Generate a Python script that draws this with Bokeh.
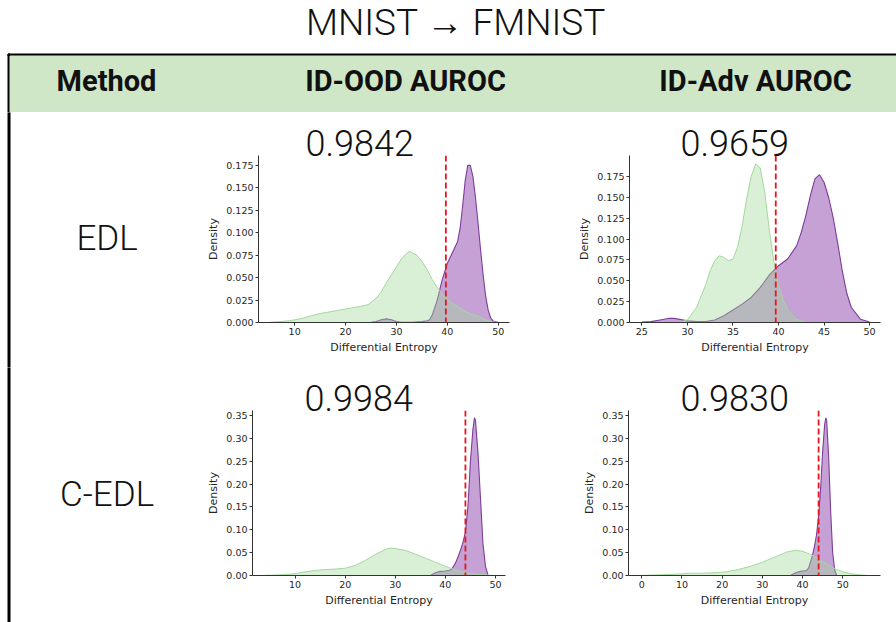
from bokeh.plotting import figure
from bokeh.layouts import column, row
from bokeh.models import Range1d, FixedTicker, PrintfTickFormatter, Span, Title
from bokeh.core.properties import value
from bokeh.embed import file_html
from bokeh.resources import INLINE

# ---------------- data ----------------
TITLE = "MNIST → FMNIST"
HEADERS = ["Method", "ID-OOD AUROC", "ID-Adv AUROC"]
METHODS = ["EDL", "C-EDL"]
AUROC = [["0.9842", "0.9659"], ["0.9984", "0.9830"]]
THRESH = [[39.7, 39.7], [44.0, 44.0]]

# EDL, ID-OOD
a_id_x = [5, 7, 9, 11, 13, 15, 17, 19, 21, 23, 24.5, 26, 27, 28, 29, 30, 31, 32, 32.5, 33, 34, 35, 36, 37,
          38, 39, 40, 41, 42, 43, 44, 45, 46, 47, 48, 49, 50]
a_id_y = [0.0002, 0.001, 0.002, 0.004, 0.007, 0.010, 0.012, 0.014, 0.016, 0.018, 0.020, 0.027, 0.034, 0.044,
          0.053, 0.062, 0.071, 0.077, 0.079, 0.078, 0.075, 0.068, 0.059, 0.048, 0.039, 0.032, 0.026, 0.021,
          0.018, 0.014, 0.011, 0.009, 0.007, 0.004, 0.002, 0.0007, 0.0002]
a_ood_x = [25, 26, 27, 28, 29, 30, 31, 33, 35, 36, 36.5, 37, 38, 39, 40, 41, 42, 42.5, 43, 43.5, 44, 44.5,
           45, 45.5, 46, 46.5, 47, 47.5, 48, 48.5, 49, 50]
a_ood_y = [0.0003, 0.001, 0.003, 0.004, 0.003, 0.001, 0.0003, 0.0003, 0.001, 0.002, 0.003, 0.008, 0.025,
           0.048, 0.066, 0.078, 0.090, 0.105, 0.130, 0.158, 0.175, 0.175, 0.163, 0.140, 0.112, 0.082, 0.054,
           0.030, 0.014, 0.005, 0.0015, 0.0]

# EDL, ID-Adv
b_id_x = [29, 30, 31, 32, 32.5, 33, 33.5, 34, 34.5, 35, 35.5, 36, 36.5, 37, 37.5, 38, 38.5, 39, 39.5, 40,
          40.5, 41, 42, 43]
b_id_y = [0.0, 0.003, 0.018, 0.045, 0.062, 0.074, 0.080, 0.078, 0.074, 0.076, 0.090, 0.115, 0.148, 0.175,
          0.190, 0.185, 0.155, 0.110, 0.072, 0.045, 0.027, 0.015, 0.004, 0.0]
b_adv_x = [25, 26, 27, 28, 28.5, 29, 30, 31, 32, 33, 34, 35, 36, 37, 38, 39, 40, 41, 42, 42.5, 43, 43.5, 44,
           44.5, 45, 45.5, 46, 46.5, 47, 47.5, 48, 49, 50]
b_adv_y = [0.0005, 0.001, 0.003, 0.005, 0.005, 0.004, 0.002, 0.001, 0.001, 0.003, 0.008, 0.015, 0.022, 0.030,
           0.042, 0.057, 0.068, 0.076, 0.092, 0.108, 0.128, 0.152, 0.172, 0.177, 0.168, 0.150, 0.126, 0.095,
           0.062, 0.035, 0.018, 0.004, 0.0005]

# C-EDL, ID-OOD
c_id_x = [4, 6, 8, 10, 12, 14, 16, 18, 20, 22, 24, 26, 28, 29, 30, 32, 34, 36, 38, 40, 42, 44, 46, 48, 50]
c_id_y = [0.0005, 0.001, 0.002, 0.004, 0.008, 0.011, 0.013, 0.014, 0.016, 0.022, 0.033, 0.046, 0.057, 0.060,
          0.059, 0.055, 0.047, 0.038, 0.029, 0.020, 0.012, 0.006, 0.003, 0.001, 0.0]
c_ood_x = [37, 38, 39, 40, 41, 41.5, 42, 42.5, 43, 43.5, 44, 44.5, 45, 45.5, 45.8, 46, 46.5, 47, 47.5, 48,
           48.5]
c_ood_y = [0.0, 0.006, 0.009, 0.010, 0.012, 0.018, 0.027, 0.040, 0.055, 0.072, 0.095, 0.150, 0.250, 0.320,
           0.345, 0.340, 0.270, 0.170, 0.070, 0.020, 0.002]

# C-EDL, ID-Adv
d_id_x = [0, 3, 6, 9, 12, 15, 18, 21, 24, 27, 30, 33, 36, 38, 40, 42, 44, 46, 48, 50, 52, 54, 56]
d_id_y = [0.0003, 0.001, 0.002, 0.003, 0.005, 0.005, 0.006, 0.008, 0.013, 0.020, 0.029, 0.040, 0.051, 0.055,
          0.053, 0.046, 0.036, 0.025, 0.015, 0.008, 0.004, 0.0015, 0.0003]
d_adv_x = [37, 38, 39, 40, 41, 41.5, 42, 42.5, 43, 43.5, 44, 44.5, 45, 45.5, 45.8, 46, 46.5, 47, 47.5, 48,
           48.5]
d_adv_y = [0.0, 0.005, 0.008, 0.010, 0.011, 0.016, 0.030, 0.045, 0.065, 0.090, 0.130, 0.190, 0.270, 0.330,
           0.345, 0.340, 0.260, 0.140, 0.050, 0.012, 0.0]

X_TICKS = [[10, 20, 30, 40, 50], [25, 30, 35, 40, 45, 50], [10, 20, 30, 40, 50], [0, 10, 20, 30, 40, 50]]
Y_TICKS_TOP = [0.0, 0.025, 0.05, 0.075, 0.1, 0.125, 0.15, 0.175]
Y_TICKS_BOTTOM = [0.0, 0.05, 0.1, 0.15, 0.2, 0.25, 0.3, 0.35]

# ---------------- style ----------------
LIGHT = value("Roboto Light")
BOLD = value("Roboto")
GREEN = "#a1d99b"
GREEN_EDGE = "#a1d99b"
PURPLE = "#8e44ad"
PURPLE_EDGE = "#7d3c98"
BAND = "#cfe6c7"
AXC = "#333333"
W = 896
SHIFT = 0.39  # em offset of the rendered alphabetic baseline


def canvas(w, h, line_top=-10.0):
    p = figure(width=w, height=h, x_range=Range1d(0, w), y_range=Range1d(h, 0),
               toolbar_location=None, output_backend="svg", title=None, min_border=0,
               x_axis_type=None, y_axis_type=None)
    p.frame_align = False
    p.grid.visible = False
    p.outline_line_color = None
    p.background_fill_color = "white"
    p.border_fill_color = "white"
    p.quad(left=7.5, right=9.5, top=line_top, bottom=h + 10, color="black")
    return p


def put_text(p, xs, base, labels, font, size, style="normal"):
    y = base - SHIFT * size
    p.text(x=xs, y=[y] * len(xs), text=labels, text_font=font, text_font_style=style,
           text_font_size=f"{size}px", text_align="center", text_baseline="alphabetic",
           text_color="#111111")


def density(w, h, mbl, mbr, mbt, mbb, xr, yr, xt, yt, yfmt, gx, gy, px, py, thr, ttl, toff):
    p = figure(width=w, height=h, x_range=Range1d(*xr), y_range=Range1d(*yr),
               toolbar_location=None, output_backend="svg", title=None,
               min_border_left=mbl, min_border_right=mbr, min_border_top=mbt, min_border_bottom=mbb)
    p.frame_align = False
    p.grid.visible = False
    p.outline_line_color = None
    p.background_fill_color = "white"
    p.border_fill_color = "white"
    p.add_layout(Title(text=ttl, align="left", offset=toff, vertical_align="bottom", standoff=0,
                       text_font="Roboto Light", text_font_size="36px", text_font_style="normal",
                       text_color="#111111"), "above")
    p.varea(x=px, y1=0, y2=py, fill_color=PURPLE, fill_alpha=0.5)
    p.line(px, py, line_color=PURPLE_EDGE, line_width=1.1)
    p.varea(x=gx, y1=0, y2=gy, fill_color=GREEN, fill_alpha=0.4)
    p.line(gx, gy, line_color=GREEN_EDGE, line_width=1.0)
    p.add_layout(Span(location=thr, dimension="height", line_color="#e8151b",
                      line_dash="6 3", line_width=1.8))
    p.xaxis.ticker = FixedTicker(ticks=xt, minor_ticks=[])
    p.yaxis.ticker = FixedTicker(ticks=yt, minor_ticks=[])
    p.yaxis.formatter = PrintfTickFormatter(format=yfmt)
    for ax in (p.xaxis, p.yaxis):
        ax.axis_line_color = AXC
        ax.axis_line_width = 1
        ax.major_tick_line_color = AXC
        ax.major_tick_in = 0
        ax.major_tick_out = 3
        ax.minor_tick_out = 0
        ax.minor_tick_in = 0
        ax.major_label_text_font = "DejaVu Sans"
        ax.major_label_text_font_size = "9.5px"
        ax.major_label_text_color = "#262626"
        ax.major_label_standoff = 2
        ax.axis_label_text_font = "DejaVu Sans"
        ax.axis_label_text_font_size = "11px"
        ax.axis_label_text_font_style = "normal"
        ax.axis_label_text_color = "#262626"
        ax.axis_label_standoff = 3
    p.xaxis.axis_label = "Differential Entropy"
    p.yaxis.axis_label = "Density"
    return p


# header (screen y 0 -> 112)
hdr = canvas(W, 112, line_top=53.5)
hdr.quad(left=7.5, right=W, top=53.5, bottom=55.5, color="black")
hdr.quad(left=9.5, right=W, top=55.5, bottom=111.7, color=BAND)
put_text(hdr, [455.5], 36, [TITLE], LIGHT, 37)
put_text(hdr, [106, 405, 755], 92.3, HEADERS, BOLD, 29, "bold")


def label_col(h, txt, base):
    c = canvas(198, h)
    put_text(c, [106.6], base, [txt], LIGHT, 35)
    return c


# row 1 (screen y 112 -> 367), frames 155 -> 321.7
pa = density(371, 255, 60, 60, 43, 45, (2.9, 52.2), (0, 0.186), X_TICKS[0], Y_TICKS_TOP, "%.3f",
             a_id_x, a_id_y, a_ood_x, a_ood_y, THRESH[0][0], AUROC[0][0], 47)
pb = density(327, 255, 60, 16, 43, 45, (23.64, 51.2), (0, 0.2), X_TICKS[1], Y_TICKS_TOP, "%.3f",
             b_id_x, b_id_y, b_adv_x, b_adv_y, THRESH[0][1], AUROC[0][1], 51)
r1 = row(label_col(255, METHODS[0], 139.7), pa, pb)

# row 2 (screen y 367 -> 622), frames 410 -> 575
pc = density(371, 255, 54, 64, 43, 47, (1.5, 52.0), (0, 0.361), X_TICKS[2], Y_TICKS_BOTTOM, "%.2f",
             c_id_x, c_id_y, c_ood_x, c_ood_y, THRESH[1][0], AUROC[1][0], 52)
pd = density(327, 255, 59, 16, 43, 47, (-3.3, 59.4), (0, 0.361), X_TICKS[3], Y_TICKS_BOTTOM, "%.2f",
             d_id_x, d_id_y, d_adv_x, d_adv_y, THRESH[1][1], AUROC[1][1], 52)
r2 = row(label_col(255, METHODS[1], 140.5), pc, pd)

page = column(hdr, r1, r2)
open("out.html", "w").write(file_html(page, INLINE))
